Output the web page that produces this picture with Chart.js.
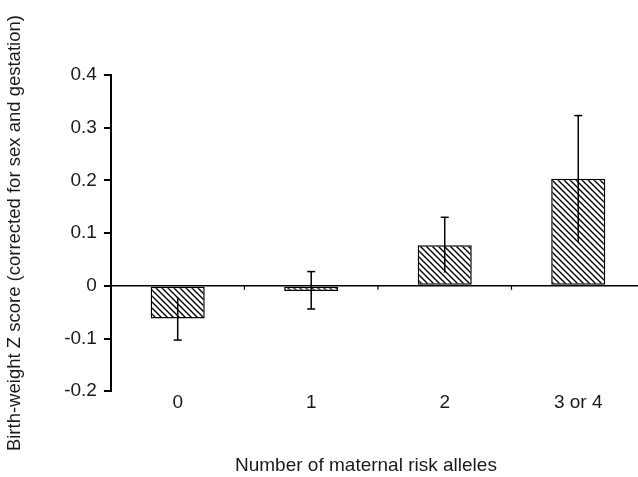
<!DOCTYPE html>
<html>
<head>
<meta charset="utf-8">
<script src="https://cdn.jsdelivr.net/npm/chart.js@4/dist/chart.umd.min.js"></script>
<style>
  html, body { margin: 0; padding: 0; background: #fff; overflow: hidden; }
  #wrap { width: 660px; height: 477px; }
</style>
</head>
<body>
<div id="wrap"><canvas id="myChart"></canvas></div>
<script>
// 데이터
const categories = ['0', '1', '2', '3 or 4'];
const zScores = [-0.062, -0.01, 0.077, 0.203];
const errLow = [-0.103, -0.044, 0.025, 0.083];
const errHigh = [-0.022, 0.027, 0.13, 0.323];
const yTicks = [-0.2, -0.1, 0, 0.1, 0.2, 0.3, 0.4];
const xTitle = 'Number of maternal risk alleles';

const FONT = 'Liberation Sans, Arial, sans-serif';
const INK = '#1a1a1a';

// 빗금 패턴
function makeHatch() {
    const s = 6;
    const c = document.createElement('canvas');
    c.width = s; c.height = s;
    const g = c.getContext('2d');
    g.fillStyle = '#fff';
    g.fillRect(0, 0, s, s);
    g.strokeStyle = '#000';
    g.lineWidth = 1.4;
    g.beginPath();
    g.moveTo(-1, -1); g.lineTo(s + 1, s + 1);
    g.moveTo(-1, s - 1); g.lineTo(1, s + 1);
    g.moveTo(s - 1, -1); g.lineTo(s + 1, 1);
    g.stroke();
    return g.createPattern(c, 'repeat');
}

const ctx = document.getElementById('myChart').getContext('2d');

// 0 기준선, 범주 눈금, 오차 막대, x축 제목
const extras = {
    id: 'extras',
    afterDatasetsDraw(chart) {
        const { ctx, chartArea, scales: { x, y } } = chart;
        const y0 = y.getPixelForValue(0);
        ctx.save();
        ctx.strokeStyle = '#000';
        ctx.lineWidth = 1.5;
        ctx.beginPath();
        ctx.moveTo(chartArea.left, y0);
        ctx.lineTo(chartArea.right, y0);
        ctx.stroke();

        const half = (x.getPixelForValue(1) - x.getPixelForValue(0)) / 2;
        ctx.lineWidth = 1.2;
        for (let i = 0; i < categories.length - 1; i++) {
            const px = x.getPixelForValue(i) + half;
            ctx.beginPath();
            ctx.moveTo(px, y0);
            ctx.lineTo(px, y0 + 4);
            ctx.stroke();
        }

        ctx.lineWidth = 1.5;
        zScores.forEach((v, i) => {
            const px = x.getPixelForValue(i);
            const lo = errLow[i], hi = errHigh[i];
            ctx.beginPath();
            ctx.moveTo(px, y.getPixelForValue(lo));
            ctx.lineTo(px, y.getPixelForValue(hi));
            ctx.stroke();
            [lo, hi].forEach(e => {
                const inside = (e - 0) * (e - v) <= 0;
                if (inside) return;
                const py = y.getPixelForValue(e);
                ctx.beginPath();
                ctx.moveTo(px - 4, py);
                ctx.lineTo(px + 4, py);
                ctx.stroke();
            });
        });

        // x축 제목 (원본 그림은 오른쪽이 잘려 있어 보이는 영역 기준 가운데)
        ctx.fillStyle = INK;
        ctx.font = '19px ' + FONT;
        ctx.textAlign = 'center';
        ctx.textBaseline = 'middle';
        ctx.fillText(xTitle, chartArea.left + 255, chartArea.bottom + 75);
        ctx.restore();
    }
};

const chart = new Chart(ctx, {
    type: 'bar',
    data: {
        labels: categories,
        datasets: [{
            data: zScores,
            backgroundColor: makeHatch(),
            borderColor: '#000',
            borderWidth: 1.5,
            borderSkipped: false,
            categoryPercentage: 1,
            barPercentage: 0.405
        }]
    },
    plugins: [extras],
    options: {
        responsive: true,
        maintainAspectRatio: false,
        animation: false,
        layout: { padding: { top: 75, right: 15, bottom: 63, left: 4 } },
        plugins: {
            legend: { display: false },
            tooltip: { enabled: false }
        },
        scales: {
            x: {
                grid: { display: false, drawTicks: false },
                border: { display: false },
                ticks: { color: INK, font: { family: FONT, size: 19 }, padding: 0, maxRotation: 0 }
            },
            y: {
                min: -0.2,
                max: 0.4,
                afterBuildTicks: axis => { axis.ticks = yTicks.map(v => ({ value: v })); },
                grid: { drawOnChartArea: false, color: '#000', lineWidth: 2, tickLength: 7 },
                border: { display: true, color: '#000', width: 2 },
                ticks: {
                    color: INK,
                    font: { family: FONT, size: 19 },
                    padding: 7,
                    callback: v => String(Math.round(v * 10) / 10)
                },
                title: {
                    display: true,
                    text: 'Birth-weight Z score (corrected for sex and gestation)',
                    color: INK,
                    font: { family: FONT, size: 18.5 },
                    padding: { top: 0, bottom: 31 }
                }
            }
        }
    }
});
</script>
</body>
</html>
